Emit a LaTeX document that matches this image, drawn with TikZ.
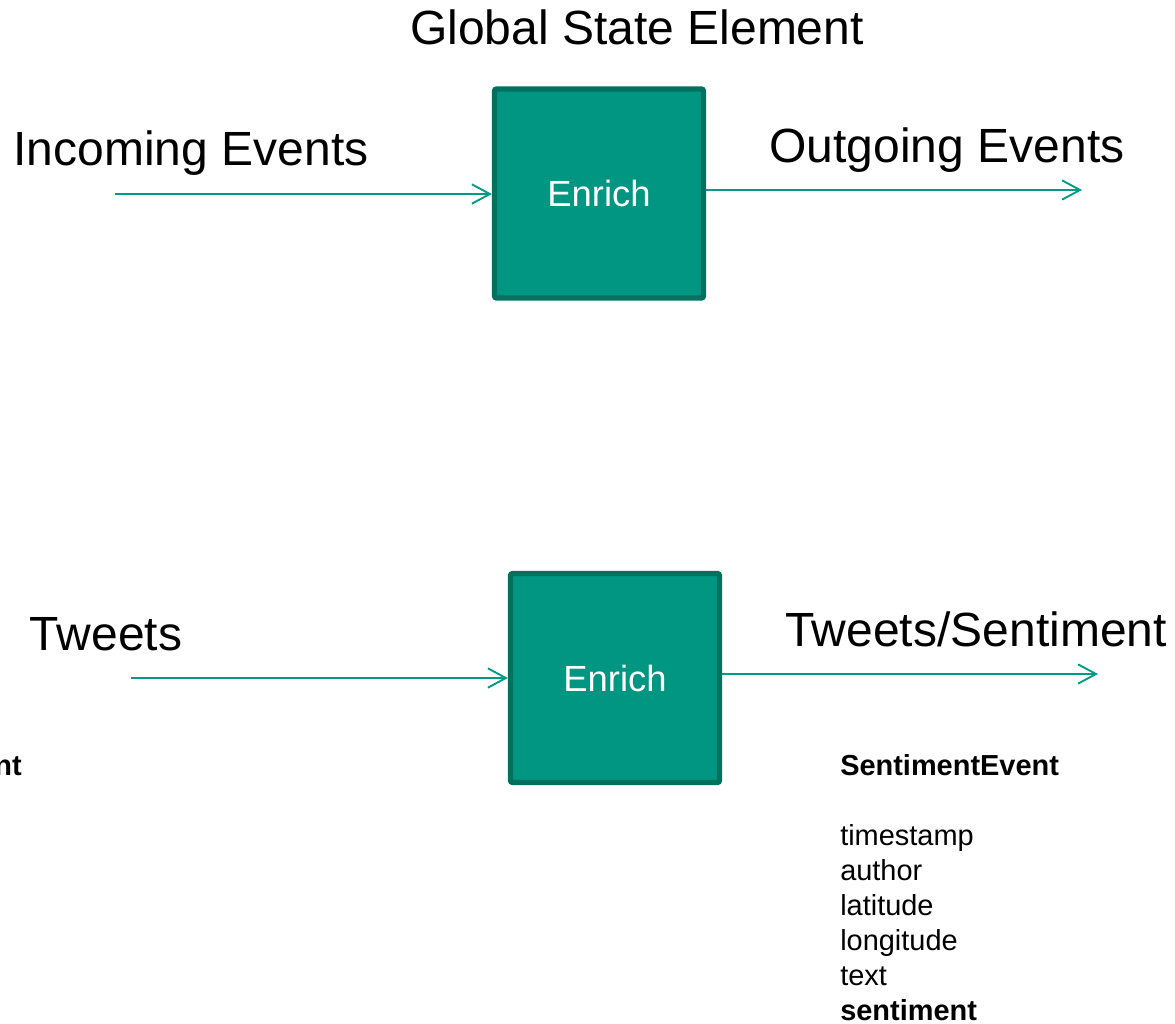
\documentclass[tikz,border=0pt]{standalone}
\usepackage{fontspec}
\setmainfont{Liberation Sans}
\usetikzlibrary{arrows.meta}
\definecolor{tealfill}{RGB}{0,150,130}
\definecolor{tealedge}{RGB}{0,112,95}
\definecolor{tealline}{RGB}{0,154,133}
\tikzset{
  stagebox/.style={rectangle, fill=tealfill, draw=tealedge, line width=3.9pt,
    rounded corners=1.5pt, minimum width=156.75pt, minimum height=156.75pt,
    text=white, font=\fontsize{27.3pt}{32pt}\selectfont, inner sep=0pt},
  flow/.style={draw=tealline, line width=1.4pt,
    -{Straight Barb[length=13.5pt, width=14.5pt, line width=1.4pt]}},
  biglabel/.style={anchor=base, font=\fontsize{36pt}{42pt}\selectfont, inner sep=0pt},
  fieldlist/.style={anchor=base west, font=\fontsize{21.7pt}{26.25pt}\selectfont,
    inner sep=0pt, align=left},
  boldfield/.style={fieldlist, font=\fontsize{21.7pt}{26.25pt}\selectfont\bfseries}
}
\begin{document}
\begin{tikzpicture}[x=0.75pt, y=-0.75pt]
  \useasboundingbox (0,0) rectangle (1175,1024);

  % upper stage: generic element
  \node[biglabel] (title) at (637,45) {Global State Element};
  \node[stagebox] (b1) at (599,193.5) {\raisebox{-1.5pt}{Enrich}};
  \node[biglabel] (inlbl) at (191,166) {Incoming Events};
  \node[biglabel] (outlbl) at (947,162) {Outgoing Events};
  \coordinate (in1) at (115,194);
  \coordinate (out1) at (1082,190);
  \draw[flow] (in1) -- (in1 -| b1.west);
  \draw[flow] (out1 -| b1.east) -- (out1);

  % lower stage: tweets enriched with sentiment
  \node[stagebox] (b2) at (615,678) {\raisebox{-1.5pt}{Enrich}};
  \node[biglabel] (tw) at (106,650) {Tweets};
  \node[biglabel] (tws) at (976,646) {Tweets/Sentiment};
  \coordinate (in2) at (131,678);
  \coordinate (out2) at (1098,674);
  \draw[flow] (in2) -- (in2 -| b2.west);
  \draw[flow] (out2 -| b2.east) -- (out2);

  % event field lists
  \node[boldfield, anchor=base east] (tev) at (22,775) {nt};
  \node[boldfield] (sev) at (840,775) {SentimentEvent};
  \node[fieldlist] (f1) at (840,845) {timestamp};
  \node[fieldlist] (f2) at (840,880) {author};
  \node[fieldlist] (f3) at (840,915) {latitude};
  \node[fieldlist] (f4) at (840,950) {longitude};
  \node[fieldlist] (f5) at (840,985) {text};
  \node[boldfield] (f6) at (840,1020) {sentiment};
\end{tikzpicture}
\end{document}
